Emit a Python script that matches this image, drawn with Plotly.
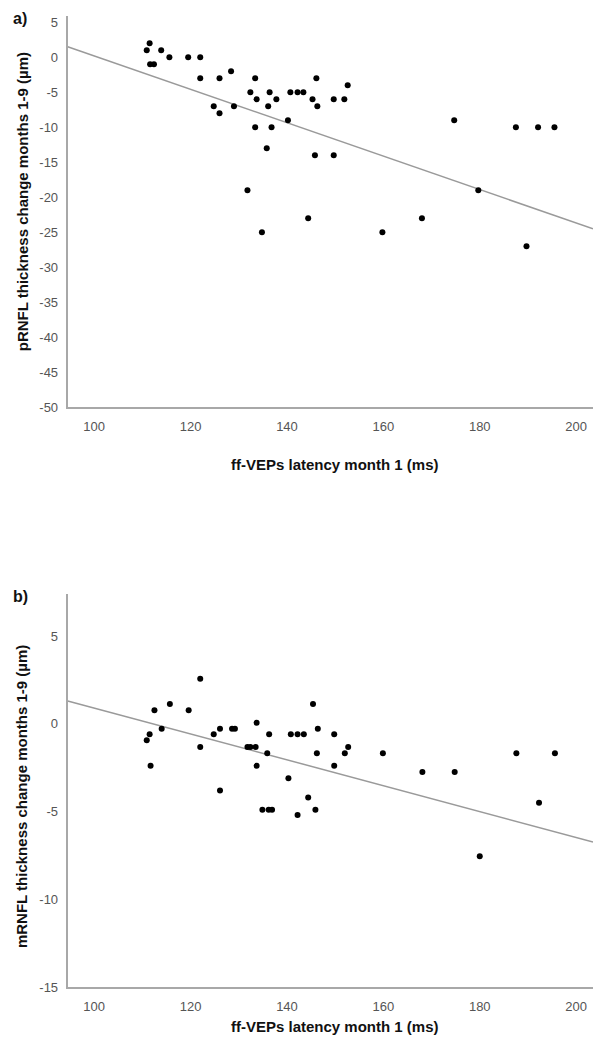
import plotly.graph_objects as go

# Panel a: ff-VEP latency vs. pRNFL thickness change
latency_a = [110.9, 111.5, 111.6, 112.4, 113.9, 115.6, 119.5, 122.0, 122.0, 124.8,
             126.0, 126.0, 128.4, 129.0, 131.8, 132.4, 133.4, 133.7, 133.4, 134.8,
             135.8, 136.1, 136.4, 136.8, 137.8, 140.2, 140.7, 142.2, 143.4, 144.4,
             145.3, 145.8, 146.1, 146.3, 149.7, 149.7, 151.9, 152.6, 159.8, 168.0,
             174.7, 179.7, 187.5, 189.7, 192.1, 195.5]
prnfl_change = [1, 2, -1, -1, 1, 0, 0, 0, -3, -7,
                -3, -8, -2, -7, -19, -5, -3, -6, -10, -25,
                -13, -7, -5, -10, -6, -9, -5, -5, -5, -23,
                -6, -14, -3, -7, -6, -14, -6, -4, -25, -23,
                -9, -19, -10, -27, -10, -10]

# Panel b: ff-VEP latency vs. mRNFL thickness change
latency_b = [110.9, 111.5, 111.7, 112.5, 114.0, 115.7, 119.6, 122.0, 122.0, 124.8,
             126.1, 126.1, 128.6, 129.2, 131.8, 132.4, 133.5, 133.7, 133.7, 134.9,
             135.9, 136.2, 136.9, 136.3, 140.3, 140.8, 142.2, 143.5, 142.2, 144.4,
             145.4, 145.9, 146.4, 146.2, 149.8, 149.8, 152.0, 152.7, 159.9, 168.1,
             174.8, 180.0, 187.6, 192.3, 195.6]
mrnfl_change = [-0.94, -0.6, -2.4, 0.77, -0.28, 1.13, 0.77, 2.56, -1.32, -0.6,
                -0.28, -3.8, -0.28, -0.28, -1.32, -1.32, -1.32, 0.06, -2.4, -4.9,
                -1.68, -4.9, -4.9, -0.6, -3.1, -0.6, -0.6, -0.6, -5.2, -4.2,
                1.13, -4.9, -0.28, -1.68, -0.6, -2.4, -1.68, -1.32, -1.68, -2.75,
                -2.75, -7.55, -1.68, -4.5, -1.68]

# Linear fit lines (end points across the x range)
fit_x = [94.5, 203.5]
fit_a_y = [1.5, -24.5]
fit_b_y = [1.3, -6.74]

x_ticks = [100, 120, 140, 160, 180, 200]
ya_ticks = [5, 0, -5, -10, -15, -20, -25, -30, -35, -40, -45, -50]
yb_ticks = [5, 0, -5, -10, -15]

x_title = "ff-VEPs latency month 1 (ms)"
ya_title = "pRNFL thickness change months 1-9 (µm)"
yb_title = "mRNFL thickness change months 1-9 (µm)"

W, H = 593, 1049


def fx(p):
    return p / W


def fy(p):
    return 1 - p / H


def labels(vals):
    # plain hyphen for negative numbers
    return [str(v) for v in vals]


AXIS_GREY = "#a8a8a8"
TICK_FONT = dict(family="Liberation Sans, Arial, sans-serif", size=13, color="#555555")
TITLE_FONT = dict(family="Liberation Sans, Arial, sans-serif", size=15, color="#111111")

fig = go.Figure()

fig.add_trace(go.Scatter(x=fit_x, y=fit_a_y, mode="lines",
                         line=dict(color="#9a9a9a", width=1.5),
                         xaxis="x", yaxis="y", showlegend=False, hoverinfo="skip"))
fig.add_trace(go.Scatter(x=latency_a, y=prnfl_change, mode="markers",
                         marker=dict(color="black", size=6),
                         xaxis="x", yaxis="y", showlegend=False))

fig.add_trace(go.Scatter(x=fit_x, y=fit_b_y, mode="lines",
                         line=dict(color="#9a9a9a", width=1.5),
                         xaxis="x2", yaxis="y2", showlegend=False, hoverinfo="skip"))
fig.add_trace(go.Scatter(x=latency_b, y=mrnfl_change, mode="markers",
                         marker=dict(color="black", size=6),
                         xaxis="x2", yaxis="y2", showlegend=False))

common_axis = dict(showline=True, linecolor=AXIS_GREY, linewidth=2,
                   showgrid=False, zeroline=False, ticks="", tickfont=TICK_FONT)

x_dom = [fx(67.7), 1.0]

fig.update_layout(
    width=W, height=H,
    margin=dict(l=0, r=0, t=0, b=0),
    paper_bgcolor="white", plot_bgcolor="white",
    xaxis=dict(domain=x_dom, range=[94.5, 203.5], tickvals=x_ticks,
               ticktext=labels(x_ticks), anchor="y", ticklabelstandoff=6, **common_axis),
    yaxis=dict(domain=[fy(410), fy(15)], range=[-50, 5.9], tickvals=ya_ticks,
               ticktext=labels(ya_ticks), anchor="x", ticklabelstandoff=5, **common_axis),
    xaxis2=dict(domain=x_dom, range=[94.5, 203.5], tickvals=x_ticks,
                ticktext=labels(x_ticks), anchor="y2", ticklabelstandoff=6, **common_axis),
    yaxis2=dict(domain=[fy(994.5), fy(598)], range=[-15, 7.4], tickvals=yb_ticks,
                ticktext=labels(yb_ticks), anchor="x2", ticklabelstandoff=5, **common_axis),
)

bold = lambda s: "<b>" + s + "</b>"
annotations = [
    dict(text=bold("a)"), x=fx(20), y=fy(18), font=dict(TITLE_FONT, size=16)),
    dict(text=bold("b)"), x=fx(20), y=fy(601), font=dict(TITLE_FONT, size=16)),
    dict(text=bold(x_title), x=fx(335), y=fy(468), font=TITLE_FONT),
    dict(text=bold(x_title), x=fx(335), y=fy(1034), font=TITLE_FONT),
    dict(text=bold(ya_title), x=fx(22), y=fy(203), textangle=-90, font=TITLE_FONT),
    dict(text=bold(yb_title), x=fx(21), y=fy(803), textangle=-90, font=TITLE_FONT),
]
for a in annotations:
    a.update(xref="paper", yref="paper", showarrow=False,
             xanchor="center", yanchor="middle")
fig.update_layout(annotations=annotations)

fig.write_html("out.html")
